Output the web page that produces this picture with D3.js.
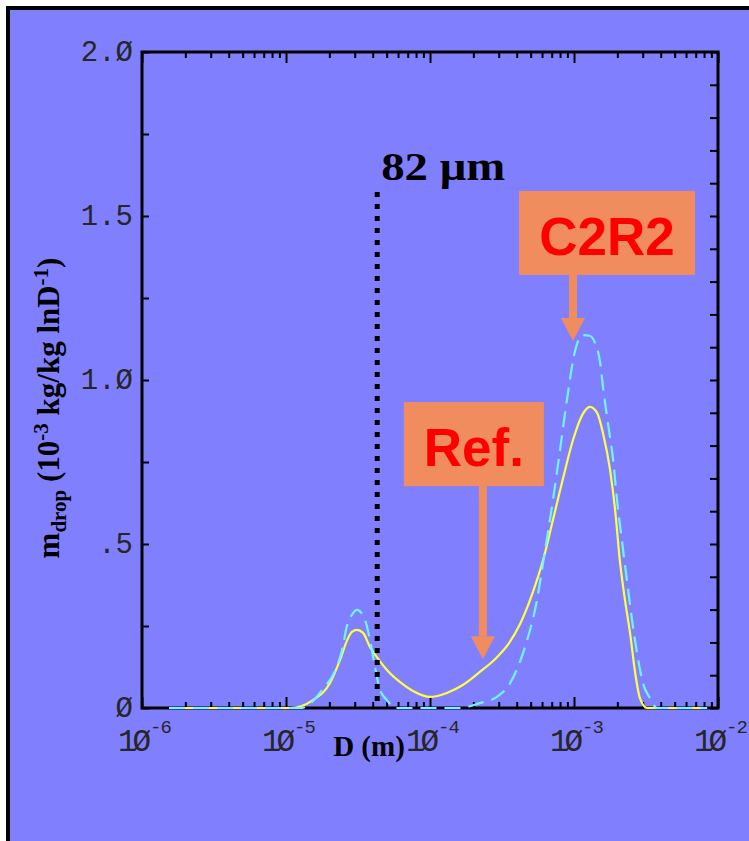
<!DOCTYPE html>
<html>
<head>
<meta charset="utf-8">
<script src="https://cdn.jsdelivr.net/npm/d3@7"></script>
<style>
  html, body { margin: 0; padding: 0; background: #fff; }
  svg { display: block; }
</style>
</head>
<body>
<svg id="chart" width="749" height="841"></svg>
<script>
// drop diameter (m) and mass density (1e-3 kg/kg lnD^-1)
const refD = [1.54e-6, 1.07e-5, 1.54e-5, 2.02e-5, 2.37e-5, 2.66e-5, 2.87e-5, 3.11e-5, 3.43e-5, 3.83e-5,
  4.28e-5, 5.02e-5, 6.20e-5, 7.62e-5, 1.0e-4, 1.31e-4, 1.69e-4, 2.22e-4, 2.92e-4, 3.54e-4, 4.22e-4,
  5.19e-4, 6.10e-4, 7.14e-4, 8.40e-4, 9.84e-4, 1.14e-3, 1.29e-3, 1.45e-3, 1.59e-3, 1.78e-3, 1.93e-3,
  2.08e-3, 2.26e-3, 2.45e-3, 2.66e-3, 2.87e-3, 3.21e-3, 8.4e-3];
const refM = [0, 0, 0.024, 0.076, 0.146, 0.207, 0.232, 0.238, 0.229, 0.186,
  0.155, 0.116, 0.079, 0.052, 0.034, 0.046, 0.070, 0.110, 0.155, 0.198, 0.256,
  0.354, 0.451, 0.573, 0.701, 0.817, 0.893, 0.918, 0.899, 0.838, 0.726, 0.604,
  0.451, 0.329, 0.229, 0.107, 0.030, 0, 0];

const c2r2D = [1.54e-6, 1.25e-5, 1.72e-5, 2.45e-5, 2.66e-5, 2.87e-5, 3.11e-5, 3.54e-5, 3.83e-5, 4.15e-5,
  4.50e-5, 5.02e-5, 5.71e-5, 1.61e-4, 2.22e-4, 2.92e-4, 3.60e-4, 4.50e-4, 5.53e-4, 6.30e-4, 7.14e-4,
  8.00e-4, 8.93e-4, 1.02e-3, 1.15e-3, 1.28e-3, 1.40e-3, 1.52e-3, 1.59e-3,
  1.72e-3, 1.87e-3, 1.99e-3, 2.15e-3, 2.33e-3, 2.53e-3, 2.74e-3, 3.01e-3, 3.37e-3, 3.77e-3, 8.4e-3];
const c2r2M = [0, 0, 0.046, 0.177, 0.253, 0.284, 0.299, 0.268, 0.207, 0.125,
  0.055, 0.024, 0, 0, 0.015, 0.034, 0.076, 0.177, 0.329, 0.482, 0.634,
  0.787, 0.939, 1.091, 1.137, 1.135, 1.113, 1.052, 0.979,
  0.869, 0.756, 0.634, 0.512, 0.390, 0.268, 0.168, 0.076, 0.030, 0, 0];

const xDecades = [1e-6, 1e-5, 1e-4, 1e-3, 1e-2];
const xDecadeExps = ["-6", "-5", "-4", "-3", "-2"];
const yLabelTicks = [0, 0.5, 1, 1.5, 2];
const yLabelTexts = ["Ø", ".5", "1.Ø", "1.5", "2.Ø"];

const cutoffD = 4.3e-5;
const cutoffLabel = "82 μm";
const notes = [
  { text: "Ref.",  tipD: 2.33e-4, tipM: 0.149 },
  { text: "C2R2",  tipD: 9.84e-4, tipM: 1.119 }
];

const W = 749, H = 841;
const plot = { left: 142, right: 718, top: 52, bottom: 708 };

const svg = d3.select("#chart");

svg.append("rect").attr("x", 0).attr("y", 0).attr("width", W).attr("height", H).attr("fill", "#fff");
svg.append("rect").attr("x", 6).attr("y", 6).attr("width", W).attr("height", H).attr("fill", "#000");
svg.append("rect").attr("x", 10).attr("y", 10).attr("width", W).attr("height", H).attr("fill", "#8080ff");

const x = d3.scaleLog().domain([1e-6, 1e-2]).range([plot.left, plot.right]);
const y = d3.scaleLinear().domain([0, 2]).range([plot.bottom, plot.top]);

// log minor ticks
const minorX = [];
for (let e = -6; e < -2; e++) {
  for (let k = 2; k <= 9; k++) minorX.push(k * Math.pow(10, e));
}

function styleAxis(g) {
  g.select(".domain").remove();
  g.selectAll(".tick line").attr("stroke", "#000").attr("stroke-width", 2);
}

svg.append("g").attr("transform", `translate(0,${plot.bottom})`)
  .call(d3.axisBottom(x).tickValues(minorX).tickSizeInner(-6).tickSizeOuter(0).tickFormat(""))
  .call(styleAxis);
svg.append("g").attr("transform", `translate(0,${plot.bottom})`)
  .call(d3.axisBottom(x).tickValues(xDecades).tickSizeInner(-11).tickSizeOuter(0).tickFormat(""))
  .call(styleAxis);
svg.append("g").attr("transform", `translate(0,${plot.top})`)
  .call(d3.axisTop(x).tickValues(minorX).tickSizeInner(-6).tickSizeOuter(0).tickFormat(""))
  .call(styleAxis);
svg.append("g").attr("transform", `translate(0,${plot.top})`)
  .call(d3.axisTop(x).tickValues(xDecades).tickSizeInner(-11).tickSizeOuter(0).tickFormat(""))
  .call(styleAxis);

svg.append("g").attr("transform", `translate(${plot.left},0)`)
  .call(d3.axisLeft(y).tickValues(d3.range(0, 2.01, 0.25)).tickSizeInner(-7).tickSizeOuter(0).tickFormat(""))
  .call(styleAxis);
svg.append("g").attr("transform", `translate(${plot.right},0)`)
  .call(d3.axisRight(y).tickValues(d3.range(0, 2.01, 0.1)).tickSizeInner(-8).tickSizeOuter(0).tickFormat(""))
  .call(styleAxis);

// frame
svg.append("rect")
  .attr("x", plot.left).attr("y", plot.top)
  .attr("width", plot.right - plot.left).attr("height", plot.bottom - plot.top)
  .attr("fill", "none").attr("stroke", "#000").attr("stroke-width", 3);

// tick labels
const tickFont = "'Liberation Mono', 'DejaVu Sans Mono', monospace";
svg.append("g").selectAll("text")
  .data(yLabelTicks)
  .join("text")
  .attr("x", plot.left - 9)
  .attr("y", d => y(d) + 9)
  .attr("text-anchor", "end")
  .attr("font-family", tickFont)
  .attr("font-size", 29)
  .attr("fill", "#262626")
  .text((d, i) => yLabelTexts[i]);

const xLab = svg.append("g");
xLab.selectAll("text.base")
  .data(xDecades)
  .join("text")
  .attr("class", "base")
  .attr("x", d => x(d) - 24)
  .attr("y", plot.bottom + 43)
  .attr("letter-spacing", -4)
  .attr("font-family", tickFont)
  .attr("font-size", 31)
  .attr("fill", "#262626")
  .text("1Ø");
xLab.selectAll("text.exp")
  .data(xDecades)
  .join("text")
  .attr("class", "exp")
  .attr("x", d => x(d) + 8)
  .attr("y", plot.bottom + 25)
  .attr("letter-spacing", -1)
  .attr("font-family", tickFont)
  .attr("font-size", 19)
  .attr("fill", "#262626")
  .text((d, i) => xDecadeExps[i]);

// axis titles
svg.append("text")
  .attr("x", 369).attr("y", 756)
  .attr("text-anchor", "middle")
  .attr("font-family", "'Liberation Serif', 'Times New Roman', serif")
  .attr("font-weight", "bold")
  .attr("font-size", 29)
  .attr("fill", "#000")
  .text("D (m)");

const yt = svg.append("text")
  .attr("transform", "translate(59,408) rotate(-90)")
  .attr("text-anchor", "middle")
  .attr("font-family", "'Liberation Serif', 'Times New Roman', serif")
  .attr("font-weight", "bold")
  .attr("font-size", 31)
  .attr("fill", "#000");
yt.append("tspan").text("m");
yt.append("tspan").attr("font-size", 21).attr("dy", 7).text("drop");
yt.append("tspan").attr("dy", -7).text(" (10");
yt.append("tspan").attr("font-size", 21).attr("dy", -11).text("-3");
yt.append("tspan").attr("dy", 11).text(" kg/kg lnD");
yt.append("tspan").attr("font-size", 21).attr("dy", -11).text("-1");
yt.append("tspan").attr("dy", 11).text(")");

// curves
const line = d3.line()
  .x(d => x(d[0]))
  .y(d => y(d[1]))
  .curve(d3.curveMonotoneX);

svg.append("path")
  .datum(refD.map((d, i) => [d, refM[i]]))
  .attr("d", line)
  .attr("fill", "none")
  .attr("stroke", "#ffff40")
  .attr("stroke-width", 2.2);

svg.append("path")
  .datum(c2r2D.map((d, i) => [d, c2r2M[i]]))
  .attr("d", line)
  .attr("fill", "none")
  .attr("stroke", "#70f4ff")
  .attr("stroke-width", 2.2)
  .attr("stroke-dasharray", "16,8");

// cutoff line
svg.append("line")
  .attr("x1", x(cutoffD)).attr("x2", x(cutoffD))
  .attr("y1", 192).attr("y2", plot.bottom - 4)
  .attr("stroke", "#000")
  .attr("stroke-width", 5)
  .attr("stroke-dasharray", "5,7");

svg.append("text")
  .attr("x", x(cutoffD) + 4).attr("y", 180)
  .attr("textLength", 124)
  .attr("lengthAdjust", "spacingAndGlyphs")
  .attr("font-family", "'Liberation Serif', 'Times New Roman', serif")
  .attr("font-weight", "bold")
  .attr("font-size", 41)
  .attr("fill", "#000")
  .text(cutoffLabel);

// annotation boxes with arrows
const boxSpec = [
  { dx: -79, w: 140, top: -257, h: 84, shaftEnd: -23 },
  { dx: -54, w: 176, top: -150, h: 84, shaftEnd: -23 }
];
const orange = "#f08c5e";
notes.forEach((n, i) => {
  const tx = x(n.tipD), ty = y(n.tipM);
  const b = boxSpec[i];
  const g = svg.append("g");
  g.append("rect")
    .attr("x", tx + b.dx).attr("y", ty + b.top)
    .attr("width", b.w).attr("height", b.h)
    .attr("fill", orange);
  g.append("rect")
    .attr("x", tx - 4).attr("y", ty + b.top + b.h)
    .attr("width", 8).attr("height", -b.top - b.h + b.shaftEnd)
    .attr("fill", orange);
  g.append("path")
    .attr("d", `M${tx - 12},${ty + b.shaftEnd} L${tx + 12},${ty + b.shaftEnd} L${tx},${ty} Z`)
    .attr("fill", orange);
  g.append("text")
    .attr("x", tx + b.dx + b.w / 2).attr("y", ty + b.top + 64)
    .attr("text-anchor", "middle")
    .attr("font-family", "'Liberation Sans', Arial, sans-serif")
    .attr("font-weight", "bold")
    .attr("font-size", 53)
    .attr("fill", "#ff0000")
    .text(n.text);
});
</script>
</body>
</html>
